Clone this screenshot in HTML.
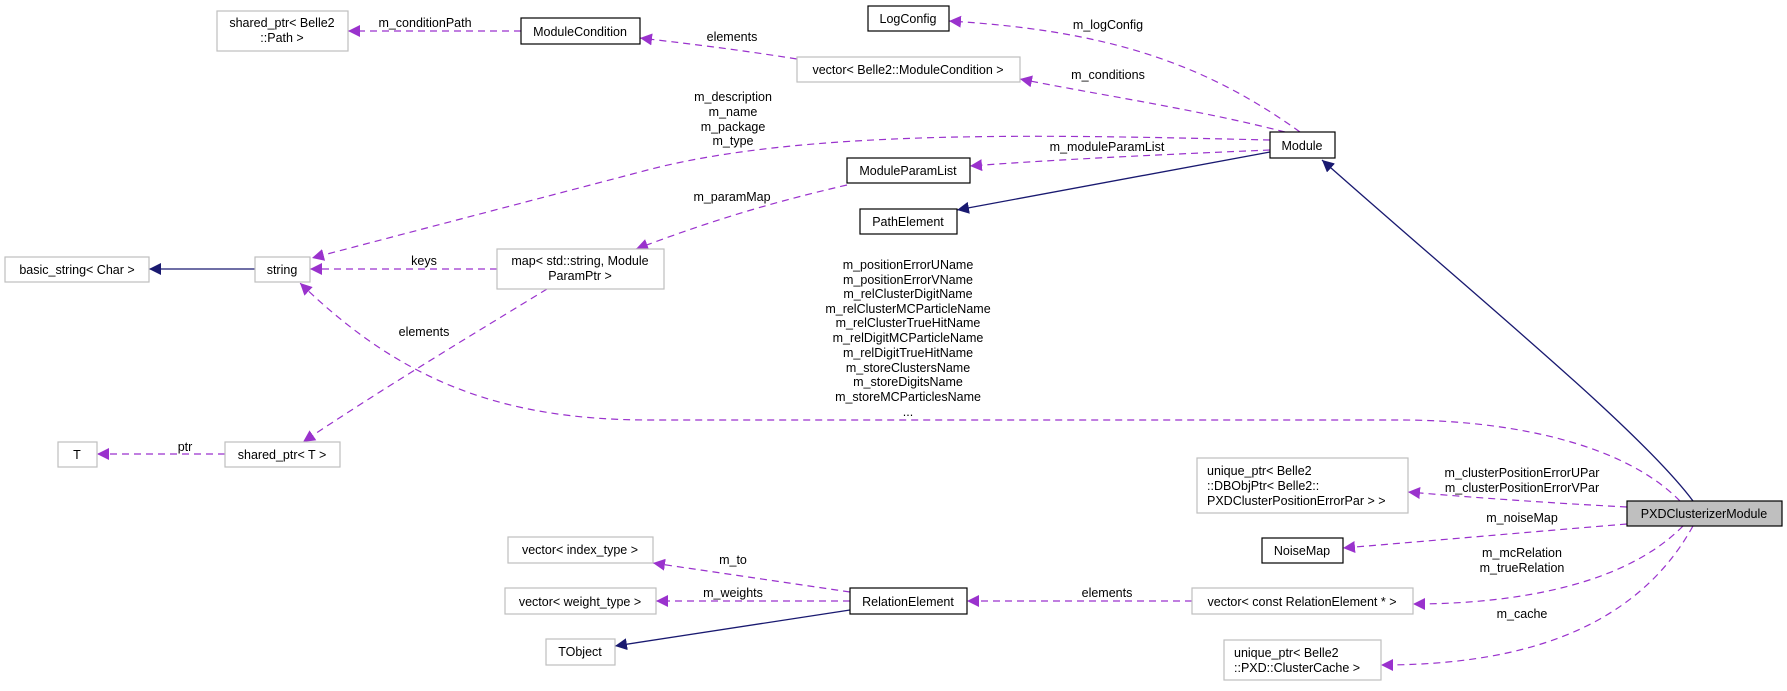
<!DOCTYPE html>
<html><head><meta charset="utf-8"><style>
html,body{margin:0;padding:0;background:#fff;}
svg text{font-family:"Liberation Sans",sans-serif;font-size:12.5px;fill:#000;}
</style></head><body>
<svg width="1787" height="686" viewBox="0 0 1787 686" xmlns="http://www.w3.org/2000/svg">
<defs>
<marker id="ap" viewBox="0 0 10 10" refX="10" refY="5" markerWidth="12" markerHeight="12" markerUnits="userSpaceOnUse" orient="auto"><path d="M0,0 L10,5 L0,10 z" fill="#9a32cd"/></marker>
<marker id="an" viewBox="0 0 10 10" refX="10" refY="5" markerWidth="12" markerHeight="12" markerUnits="userSpaceOnUse" orient="auto"><path d="M0,0 L10,5 L0,10 z" fill="#191970"/></marker>
</defs>
<g fill="none" stroke="#9a32cd" stroke-width="1.2" stroke-dasharray="7,5" marker-end="url(#ap)">
<path d="M521,31 L348,31"/>
<path d="M797,59 C740,50 700,45 640,38"/>
<path d="M1300,132 C1200,60 1100,30 949,21"/>
<path d="M1285,132 C1200,110 1100,95 1020,79"/>
<path d="M1270,140 C1050,135 800,128 640,172 L312,258"/>
<path d="M1270,150 C1150,155 1050,160 970,166"/>
<path d="M847,185 C760,205 700,225 636,249"/>
<path d="M497,269 L310,269"/>
<path d="M547,289 C480,330 380,390 303,442"/>
<path d="M225,454 L97,454"/>
<path d="M1680,501 C1620,440 1500,420 1400,420 L650,420 C500,420 400,380 300,283"/>
<path d="M1627,507 C1550,503 1480,498 1408,492"/>
<path d="M1627,524 C1530,532 1440,540 1343,548"/>
<path d="M1683,526 C1620,590 1500,604 1413,604"/>
<path d="M1693,526 C1630,640 1500,665 1381,665"/>
<path d="M1192,601 L967,601"/>
<path d="M850,592 L653,563"/>
<path d="M850,601 L656,601"/>
</g>
<g fill="none" stroke="#191970" stroke-width="1.3" marker-end="url(#an)">
<path d="M1693,501 C1640,430 1480,300 1322,160"/>
<path d="M1270,152 L957,210"/>
<path d="M255,269 L149,269"/>
<path d="M850,610 L615,646"/>
</g>
<g stroke-width="1.2">
<rect x="217" y="11" width="131" height="40" fill="#fff" stroke="#bfbfbf"/>
<rect x="521" y="18" width="119" height="26" fill="#fff" stroke="#000"/>
<rect x="868" y="6" width="81" height="25" fill="#fff" stroke="#000"/>
<rect x="797" y="57" width="223" height="25" fill="#fff" stroke="#bfbfbf"/>
<rect x="1270" y="132" width="65" height="26" fill="#fff" stroke="#000"/>
<rect x="847" y="158" width="123" height="25" fill="#fff" stroke="#000"/>
<rect x="860" y="209" width="97" height="25" fill="#fff" stroke="#000"/>
<rect x="5" y="257" width="144" height="25" fill="#fff" stroke="#bfbfbf"/>
<rect x="255" y="257" width="55" height="25" fill="#fff" stroke="#bfbfbf"/>
<rect x="497" y="249" width="167" height="40" fill="#fff" stroke="#bfbfbf"/>
<rect x="58" y="442" width="39" height="25" fill="#fff" stroke="#bfbfbf"/>
<rect x="225" y="442" width="115" height="25" fill="#fff" stroke="#bfbfbf"/>
<rect x="1197" y="458" width="211" height="55" fill="#fff" stroke="#bfbfbf"/>
<rect x="1627" y="501" width="155" height="25" fill="#bfbfbf" stroke="#000"/>
<rect x="1262" y="538" width="81" height="25" fill="#fff" stroke="#000"/>
<rect x="1192" y="588" width="221" height="26" fill="#fff" stroke="#bfbfbf"/>
<rect x="1224" y="640" width="157" height="40" fill="#fff" stroke="#bfbfbf"/>
<rect x="508" y="537" width="145" height="26" fill="#fff" stroke="#bfbfbf"/>
<rect x="505" y="588" width="151" height="26" fill="#fff" stroke="#bfbfbf"/>
<rect x="546" y="639" width="69" height="26" fill="#fff" stroke="#bfbfbf"/>
<rect x="850" y="588" width="117" height="26" fill="#fff" stroke="#000"/>
</g>
<g text-anchor="middle">
<text x="282" y="27">shared_ptr&lt; Belle2</text><text x="282" y="42">::Path &gt;</text>
<text x="580" y="36">ModuleCondition</text>
<text x="908" y="23">LogConfig</text>
<text x="908" y="74">vector&lt; Belle2::ModuleCondition &gt;</text>
<text x="1302" y="150">Module</text>
<text x="908" y="175">ModuleParamList</text>
<text x="908" y="226">PathElement</text>
<text x="77" y="274">basic_string&lt; Char &gt;</text>
<text x="282" y="274">string</text>
<text x="580" y="265">map&lt; std::string, Module</text><text x="580" y="280">ParamPtr &gt;</text>
<text x="77" y="459">T</text>
<text x="282" y="459">shared_ptr&lt; T &gt;</text>
<text x="1704" y="518">PXDClusterizerModule</text>
<text x="1302" y="555">NoiseMap</text>
<text x="1302" y="606">vector&lt; const RelationElement * &gt;</text>
<text x="580" y="554">vector&lt; index_type &gt;</text>
<text x="580" y="606">vector&lt; weight_type &gt;</text>
<text x="580" y="656">TObject</text>
<text x="908" y="606">RelationElement</text>
</g>
<g>
<text x="1207" y="475">unique_ptr&lt; Belle2</text>
<text x="1207" y="490">::DBObjPtr&lt; Belle2::</text>
<text x="1207" y="505">PXDClusterPositionErrorPar &gt; &gt;</text>
<text x="1234" y="657">unique_ptr&lt; Belle2</text>
<text x="1234" y="672">::PXD::ClusterCache &gt;</text>
</g>
<g text-anchor="middle">
<text x="425" y="27">m_conditionPath</text>
<text x="732" y="41">elements</text>
<text x="1108" y="29">m_logConfig</text>
<text x="1108" y="79">m_conditions</text>
<text x="733" y="101">m_description</text><text x="733" y="116">m_name</text><text x="733" y="131">m_package</text><text x="733" y="145">m_type</text>
<text x="1107" y="151">m_moduleParamList</text>
<text x="732" y="201">m_paramMap</text>
<text x="908" y="269">m_positionErrorUName</text>
<text x="908" y="284">m_positionErrorVName</text>
<text x="908" y="298">m_relClusterDigitName</text>
<text x="908" y="313">m_relClusterMCParticleName</text>
<text x="908" y="327">m_relClusterTrueHitName</text>
<text x="908" y="342">m_relDigitMCParticleName</text>
<text x="908" y="357">m_relDigitTrueHitName</text>
<text x="908" y="372">m_storeClustersName</text>
<text x="908" y="386">m_storeDigitsName</text>
<text x="908" y="401">m_storeMCParticlesName</text>
<text x="908" y="416">...</text>
<text x="424" y="265">keys</text>
<text x="424" y="336">elements</text>
<text x="185" y="451">ptr</text>
<text x="1522" y="477">m_clusterPositionErrorUPar</text>
<text x="1522" y="492">m_clusterPositionErrorVPar</text>
<text x="1522" y="522">m_noiseMap</text>
<text x="1522" y="557">m_mcRelation</text>
<text x="1522" y="572">m_trueRelation</text>
<text x="1522" y="618">m_cache</text>
<text x="1107" y="597">elements</text>
<text x="733" y="564">m_to</text>
<text x="733" y="597">m_weights</text>
</g>
</svg>
</body></html>
